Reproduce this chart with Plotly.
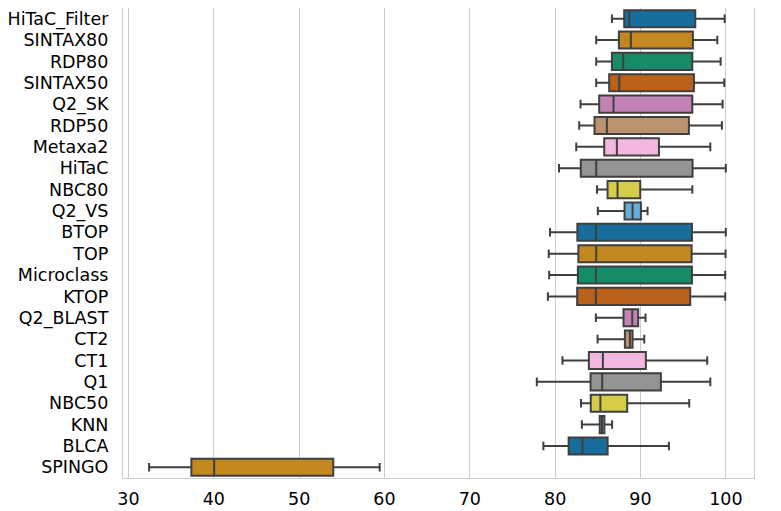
import colorsys
import plotly.graph_objects as go

categories = ["HiTaC_Filter", "SINTAX80", "RDP80", "SINTAX50", "Q2_SK", "RDP50", "Metaxa2",
              "HiTaC", "NBC80", "Q2_VS", "BTOP", "TOP", "Microclass", "KTOP", "Q2_BLAST",
              "CT2", "CT1", "Q1", "NBC50", "KNN", "BLCA", "SPINGO"]
lower_whisker = [86.65, 84.81, 84.81, 84.81, 82.97, 82.82, 82.47,
                 80.45, 84.9, 85.0, 79.4, 79.25, 79.3, 79.15, 84.77,
                 84.97, 80.86, 77.85, 83.03, 83.13, 78.62, 32.42]
q1_vals = [88.09, 87.47, 86.65, 86.33, 85.16, 84.61, 85.75,
           83.0, 86.14, 88.13, 82.6, 82.72, 82.66, 82.58, 88.01,
           88.17, 83.95, 84.15, 84.17, 85.22, 81.58, 37.37]
median_vals = [88.68, 88.87, 87.98, 87.51, 86.84, 86.06, 87.23,
               84.81, 87.31, 89.07, 84.79, 84.81, 84.77, 84.77, 89.03,
               88.76, 85.59, 85.51, 85.3, 85.49, 83.19, 40.04]
q3_vals = [96.42, 96.14, 96.07, 96.26, 96.07, 95.67, 92.16,
           96.1, 89.97, 90.05, 96.03, 95.99, 96.03, 95.83, 89.73,
           89.07, 90.63, 92.39, 88.44, 85.77, 86.15, 54.0]
upper_whisker = [99.86, 99.0, 99.39, 99.82, 99.62, 99.54, 98.18,
                 100.0, 96.07, 90.83, 100.0, 99.97, 99.93, 99.93, 90.59,
                 90.44, 97.82, 98.18, 95.71, 86.67, 93.33, 59.44]
x_ticks = [30, 40, 50, 60, 70, 80, 90, 100]

palette = ["#0173b2", "#de8f05", "#029e73", "#d55e00", "#cc78bc",
           "#ca9161", "#fbafe4", "#949494", "#ece133", "#56b4e9"]


def desaturate(hexcol, prop=0.75):
    r, g, b = [int(hexcol[i:i + 2], 16) / 255 for i in (1, 3, 5)]
    h, l, s = colorsys.rgb_to_hls(r, g, b)
    r, g, b = colorsys.hls_to_rgb(h, l, s * prop)
    return "rgb(%d,%d,%d)" % (round(r * 255), round(g * 255), round(b * 255))


fig = go.Figure()
for i, cat in enumerate(categories):
    fig.add_trace(go.Box(
        y=[cat], orientation="h",
        lowerfence=[lower_whisker[i]], q1=[q1_vals[i]], median=[median_vals[i]],
        q3=[q3_vals[i]], upperfence=[upper_whisker[i]],
        fillcolor=desaturate(palette[i % 10]),
        line=dict(color="#3f3f3f", width=2),
        width=0.8, whiskerwidth=0.5, boxpoints=False,
        showlegend=False, hoverinfo="skip",
    ))

fig.update_layout(
    width=773, height=503,
    margin=dict(l=115, r=27, t=0, b=33),
    paper_bgcolor="white", plot_bgcolor="white",
    font=dict(family="DejaVu Sans", size=17.5, color="black"),
    boxmode="overlay",
)
fig.update_xaxes(
    range=[29.36, 103.3], tickvals=x_ticks, ticktext=[str(t) for t in x_ticks],
    showgrid=True, gridcolor="#cccccc", gridwidth=1, zeroline=False,
    showline=True, linecolor="#cccccc", linewidth=1.2, mirror=True,
    ticks="", ticklabelstandoff=5, automargin=False,
)
fig.update_yaxes(
    type="category", categoryorder="array", categoryarray=categories,
    tickmode="array", tickvals=categories, ticktext=categories,
    range=[len(categories) - 0.5, -0.5], autorange=False,
    showgrid=False, zeroline=False,
    showline=True, linecolor="#cccccc", linewidth=1.2, mirror=True,
    ticks="", ticklabelstandoff=10, automargin=False,
)
fig.write_html("out.html")
